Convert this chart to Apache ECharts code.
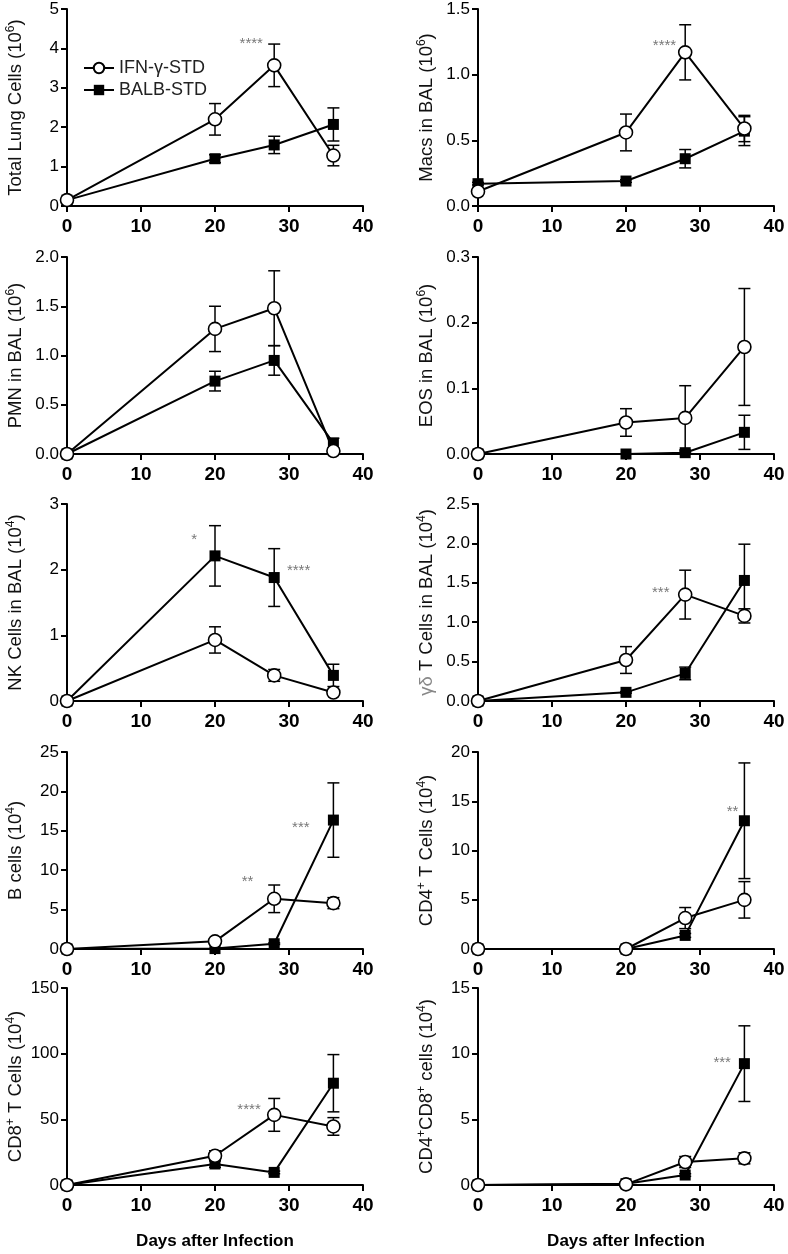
<!DOCTYPE html>
<html>
<head>
<meta charset="utf-8">
<script src="https://cdn.jsdelivr.net/npm/echarts@6/dist/echarts.min.js"></script>
<style>
html,body{margin:0;padding:0;background:#fff;}
#chart{width:788px;height:1254px;}
</style>
</head>
<body>
<div id="chart"></div>
<script>
// ---------- data ----------
const days = [0, 20, 28, 36];
const seriesNames = ['IFN-γ-STD', 'BALB-STD'];

const totalLungIFN = [0.15, 2.20, 3.57, 1.28];
const totalLungIFNErr = [0.03, 0.40, 0.54, 0.26];
const totalLungBALB = [0.15, 1.20, 1.55, 2.07];
const totalLungBALBErr = [0.03, 0.10, 0.22, 0.42];
const totalLungStars = [[24.9, 4.18, '****']];

const macsIFN = [0.11, 0.56, 1.17, 0.59];
const macsIFNErr = [0.01, 0.14, 0.21, 0.10];
const macsBALB = [0.17, 0.19, 0.36, 0.57];
const macsBALBErr = [0.01, 0.01, 0.07, 0.11];
const macsStars = [[25.2, 1.24, '****']];

const pmnIFN = [0, 1.27, 1.48, 0.03];
const pmnIFNErr = [0, 0.23, 0.38, 0.01];
const pmnBALB = [0, 0.74, 0.95, 0.11];
const pmnBALBErr = [0, 0.10, 0.15, 0.05];
const pmnStars = [];

const eosIFN = [0, 0.048, 0.055, 0.163];
const eosIFNErr = [0, 0.021, 0.049, 0.089];
const eosBALB = [0, 0, 0.002, 0.033];
const eosBALBErr = [0, 0, 0.001, 0.026];
const eosStars = [];

const nkIFN = [0, 0.93, 0.39, 0.13];
const nkIFNErr = [0, 0.20, 0.09, 0.03];
const nkBALB = [0, 2.21, 1.88, 0.39];
const nkBALBErr = [0, 0.46, 0.44, 0.17];
const nkStars = [[17.2, 2.50, '*'], [31.3, 2.02, '****']];

const gdIFN = [0, 0.52, 1.35, 1.08];
const gdIFNErr = [0, 0.17, 0.31, 0.09];
const gdBALB = [0, 0.11, 0.35, 1.53];
const gdBALBErr = [0, 0.01, 0.08, 0.46];
const gdStars = [[24.7, 1.41, '***']];

const bIFN = [0, 0.97, 6.37, 5.82];
const bIFNErr = [0, 0.10, 1.75, 0.70];
const bBALB = [0, 0.05, 0.67, 16.36];
const bBALBErr = [0, 0.02, 0.10, 4.72];
const bStars = [[24.4, 8.85, '**'], [31.6, 15.7, '***']];

const cd4IFN = [0, 0, 3.14, 4.99];
const cd4IFNErr = [0, 0, 1.07, 1.85];
const cd4BALB = [0, 0, 1.38, 13.02];
const cd4BALBErr = [0, 0, 0.20, 5.87];
const cd4Stars = [[34.4, 14.2, '**']];

const cd8IFN = [0, 22.3, 53.4, 44.6];
const cd8IFNErr = [0, 3.8, 12.5, 6.7];
const cd8BALB = [0, 16.0, 9.6, 77.5];
const cd8BALBErr = [0, 2.5, 1.0, 21.8];
const cd8Stars = [[24.6, 59.7, '****']];

const dpIFN = [0, 0.05, 1.75, 2.03];
const dpIFNErr = [0, 0.02, 0.42, 0.42];
const dpBALB = [0, 0.10, 0.76, 9.24];
const dpBALBErr = [0, 0.02, 0.10, 2.88];
const dpStars = [[33.0, 9.5, '***']];

const yTitles = [
  'Total Lung Cells (10{sup|6})',
  'Macs in BAL (10{sup|6})',
  'PMN in BAL (10{sup|6})',
  'EOS in BAL (10{sup|6})',
  'NK Cells in BAL (10{sup|4})',
  '{g|γδ} T Cells in BAL (10{sup|4})',
  'B cells (10{sup|4})',
  'CD4{sup|+} T Cells (10{sup|4})',
  'CD8{sup|+} T Cells (10{sup|4})',
  'CD4{sup|+}CD8{sup|+} cells (10{sup|4})'
];
const yMax = [5, 1.5, 2, 0.3, 3, 2.5, 25, 20, 150, 15];
const yStep = [1, 0.5, 0.5, 0.1, 1, 0.5, 5, 5, 50, 5];
const yDecimals = [0, 1, 1, 1, 0, 1, 0, 0, 0, 0];
const xTicks = [0, 40, 10];
const xTitle = 'Days after Infection';

const panels = [
  [totalLungIFN, totalLungIFNErr, totalLungBALB, totalLungBALBErr, totalLungStars],
  [macsIFN, macsIFNErr, macsBALB, macsBALBErr, macsStars],
  [pmnIFN, pmnIFNErr, pmnBALB, pmnBALBErr, pmnStars],
  [eosIFN, eosIFNErr, eosBALB, eosBALBErr, eosStars],
  [nkIFN, nkIFNErr, nkBALB, nkBALBErr, nkStars],
  [gdIFN, gdIFNErr, gdBALB, gdBALBErr, gdStars],
  [bIFN, bIFNErr, bBALB, bBALBErr, bStars],
  [cd4IFN, cd4IFNErr, cd4BALB, cd4BALBErr, cd4Stars],
  [cd8IFN, cd8IFNErr, cd8BALB, cd8BALBErr, cd8Stars],
  [dpIFN, dpIFNErr, dpBALB, dpBALBErr, dpStars]
];

// ---------- layout ----------
const FONT = '"Liberation Sans", Arial, Helvetica, sans-serif';
const colLeft = [67, 478];
const plotW = 296;
const rowTop = [9, 257, 504, 752, 988];
const plotH = 197;

function renderErr(params, api) {
  const x = api.value(0), lo = api.value(1), hi = api.value(2);
  const pLo = api.coord([x, lo]);
  const pHi = api.coord([x, hi]);
  const w = 6;
  const style = { stroke: '#000', lineWidth: 1.5, fill: null };
  return {
    type: 'group',
    children: [
      { type: 'line', shape: { x1: pLo[0], y1: pLo[1], x2: pHi[0], y2: pHi[1] }, style },
      { type: 'line', shape: { x1: pHi[0] - w, y1: pHi[1], x2: pHi[0] + w, y2: pHi[1] }, style },
      { type: 'line', shape: { x1: pLo[0] - w, y1: pLo[1], x2: pLo[0] + w, y2: pLo[1] }, style }
    ]
  };
}

const grids = [], xAxes = [], yAxes = [], series = [];
panels.forEach((p, i) => {
  const row = Math.floor(i / 2), col = i % 2;
  grids.push({ left: colLeft[col], top: rowTop[row], width: plotW, height: plotH, containLabel: false });
  const isBottom = row === 4;
  xAxes.push({
    type: 'value', gridIndex: i, min: xTicks[0], max: xTicks[1], interval: xTicks[2],
    axisLine: { show: true, onZero: false, lineStyle: { color: '#000', width: 2 } },
    axisTick: { show: true, length: 6, lineStyle: { color: '#000', width: 2 } },
    axisLabel: { fontSize: 19, fontWeight: 'bold', color: '#000', margin: 11, fontFamily: FONT },
    splitLine: { show: false },
    name: isBottom ? xTitle : '',
    nameLocation: 'middle', nameGap: 48,
    nameTextStyle: { fontSize: 17, fontWeight: 'bold', color: '#000', fontFamily: FONT }
  });
  const dec = yDecimals[i];
  yAxes.push({
    type: 'value', gridIndex: i, min: 0, max: yMax[i], interval: yStep[i],
    axisLine: { show: true, onZero: false, lineStyle: { color: '#000', width: 2 } },
    axisTick: { show: true, length: 6, lineStyle: { color: '#000', width: 2 } },
    axisLabel: { fontSize: 17, color: '#000', margin: 8, fontFamily: FONT,
      formatter: v => v.toFixed(dec) },
    splitLine: { show: false },
    name: yTitles[i], nameLocation: 'middle', nameGap: 40, nameRotate: 90,
    nameTextStyle: {
      fontSize: 18.5, color: '#111', fontFamily: FONT, lineHeight: 22,
      rich: {
        sup: { fontSize: 12, lineHeight: 12, verticalAlign: 'top', color: '#111', fontFamily: FONT },
        g: { fontSize: 18.5, lineHeight: 22, color: '#888', fontFamily: FONT }
      }
    }
  });
  const [ifn, ifnErr, balb, balbErr, stars] = p;
  const errData = (vals, errs) => days.map((d, k) => [d, Math.max(0, vals[k] - errs[k]), vals[k] + errs[k], errs[k]])
    .filter(r => r[3] > 0);
  series.push({
    type: 'custom', xAxisIndex: i, yAxisIndex: i, renderItem: renderErr,
    data: errData(balb, balbErr), encode: { x: 0, y: [1, 2] }, z: 1, silent: true
  });
  series.push({
    type: 'custom', xAxisIndex: i, yAxisIndex: i, renderItem: renderErr,
    data: errData(ifn, ifnErr), encode: { x: 0, y: [1, 2] }, z: 1, silent: true
  });
  series.push({
    name: seriesNames[1], type: 'line', xAxisIndex: i, yAxisIndex: i,
    data: days.map((d, k) => [d, balb[k]]),
    symbol: 'rect', symbolSize: 11, showAllSymbol: true,
    lineStyle: { color: '#000', width: 2 },
    itemStyle: { color: '#000', borderColor: '#000', borderWidth: 0 },
    z: 3
  });
  series.push({
    name: seriesNames[0], type: 'line', xAxisIndex: i, yAxisIndex: i,
    data: days.map((d, k) => [d, ifn[k]]),
    symbol: 'circle', symbolSize: 13, showAllSymbol: true,
    lineStyle: { color: '#000', width: 2 },
    itemStyle: { color: '#fff', borderColor: '#000', borderWidth: 1.6 },
    z: 4
  });
  if (stars.length) {
    series.push({
      type: 'scatter', xAxisIndex: i, yAxisIndex: i, data: stars,
      symbolSize: 1, itemStyle: { color: 'rgba(0,0,0,0)' }, silent: true, z: 5,
      label: { show: true, position: 'inside', offset: [0, 3], formatter: q => q.data[2],
        fontSize: 15, color: '#555', fontFamily: FONT }
    });
  }
});

const chart = echarts.init(document.getElementById('chart'), null, { renderer: 'canvas' });
chart.setOption({
  animation: false,
  backgroundColor: '#fff',
  textStyle: { fontFamily: FONT },
  grid: grids, xAxis: xAxes, yAxis: yAxes,
  legend: {
    data: seriesNames, orient: 'vertical', left: 78, top: 54,
    itemWidth: 30, itemHeight: 13, itemGap: 4, selectedMode: false,
    textStyle: { fontSize: 18, color: '#222', fontFamily: FONT }
  },
  series
});
</script>
</body>
</html>
